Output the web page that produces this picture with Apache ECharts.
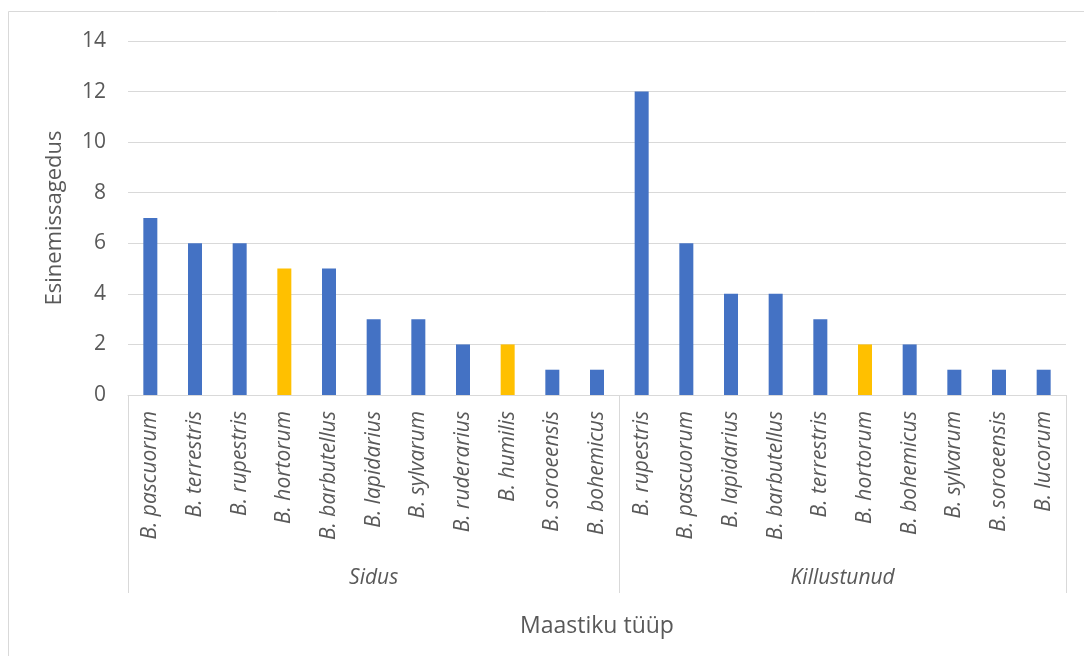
<!DOCTYPE html>
<html>
<head>
<meta charset="utf-8">
<script src="https://cdn.jsdelivr.net/npm/echarts@6/dist/echarts.min.js"></script>
<style>html,body{margin:0;padding:0;background:#fff}#c{width:1084px;height:656px}</style>
</head>
<body>
<div id="c"></div>
<script>
// Data
const groups = ['Sidus', 'Killustunud'];
const sidusSpecies = ['B. pascuorum','B. terrestris','B. rupestris','B. hortorum','B. barbutellus','B. lapidarius','B. sylvarum','B. ruderarius','B. humilis','B. soroeensis','B. bohemicus'];
const sidusValues = [7,6,6,5,5,3,3,2,2,1,1];
const killSpecies = ['B. rupestris','B. pascuorum','B. lapidarius','B. barbutellus','B. terrestris','B. hortorum','B. bohemicus','B. sylvarum','B. soroeensis','B. lucorum'];
const killValues = [12,6,4,4,3,2,2,1,1,1];
const highlighted = ['B. hortorum','B. humilis'];

const BLUE = '#4472C4', GOLD = '#FFC000';
const categories = sidusSpecies.concat(killSpecies);
const values = sidusValues.concat(killValues);
const n = categories.length;
const boundaries = [0, sidusSpecies.length, n];
const groupCenters = [sidusSpecies.length / 2, sidusSpecies.length + killSpecies.length / 2];

const chart = echarts.init(document.getElementById('c'), null, {renderer: 'canvas'});
const textColor = '#595959';
const font = 'Open Sans';

chart.setOption({
  animation: false,
  backgroundColor: '#fff',
  graphic: [{
    type: 'rect', shape: {x: 8.5, y: 11.5, width: 1200, height: 800},
    style: {fill: 'none', stroke: '#d9d9d9', lineWidth: 1}, silent: true, z: -10
  }],
  grid: {left: 128, right: 18, top: 41, bottom: 261, containLabel: false},
  xAxis: [{
    type: 'category',
    data: categories,
    axisLine: {show: true, lineStyle: {color: '#d9d9d9', width: 1}},
    axisTick: {show: false},
    axisLabel: {
      rotate: 90, interval: 0, margin: 16,
      color: textColor, fontSize: 21, fontStyle: 'italic', fontFamily: font
    }
  }, {
    type: 'value',
    min: 0, max: n,
    position: 'bottom',
    splitLine: {show: false},
    axisLine: {show: false},
    axisTick: {
      show: true, length: 198, customValues: boundaries,
      lineStyle: {color: '#d9d9d9', width: 1}
    },
    axisLabel: {
      show: true, customValues: groupCenters, margin: 173,
      color: textColor, fontSize: 21, fontStyle: 'italic', fontFamily: font,
      formatter: function (v) { return v < sidusSpecies.length ? groups[0] : groups[1]; }
    },
    name: 'Maastiku tüüp',
    nameLocation: 'middle',
    nameGap: 220,
    nameTextStyle: {color: textColor, fontSize: 23, fontFamily: font}
  }],
  yAxis: {
    type: 'value',
    min: 0, max: 14, interval: 2,
    axisLine: {show: false},
    axisTick: {show: false},
    axisLabel: {color: textColor, fontSize: 21, margin: 22, fontFamily: font},
    splitLine: {lineStyle: {color: '#d9d9d9', width: 1}},
    name: 'Esinemissagedus',
    nameLocation: 'middle',
    nameGap: 62,
    nameTextStyle: {color: textColor, fontSize: 22, fontFamily: font}
  },
  series: [{
    type: 'bar',
    xAxisIndex: 0,
    barWidth: 14,
    data: values.map(function (v, i) {
      return {value: v, itemStyle: {color: highlighted.indexOf(categories[i]) >= 0 ? GOLD : BLUE}};
    })
  }]
});
</script>
</body>
</html>
